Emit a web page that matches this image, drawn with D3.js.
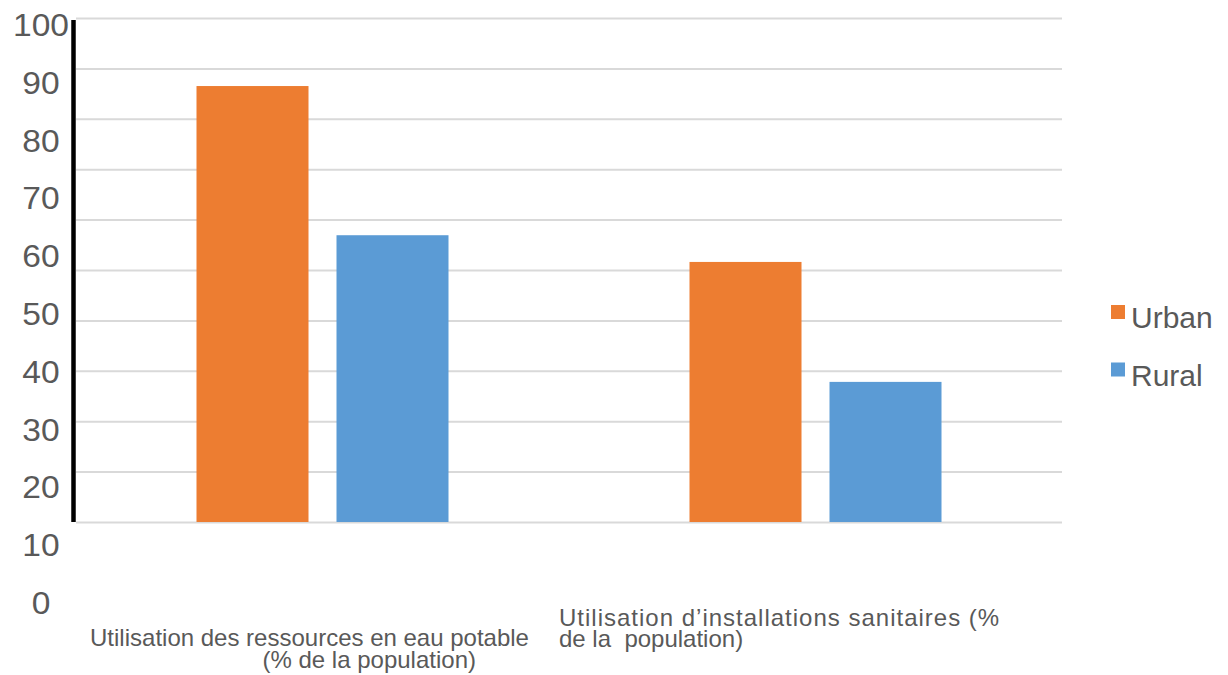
<!DOCTYPE html>
<html>
<head>
<meta charset="utf-8">
<script src="https://cdn.jsdelivr.net/npm/d3@7"></script>
<style>
  html, body { margin: 0; padding: 0; background: #fff; }
  svg { display: block; font-family: "Liberation Sans", Arial, sans-serif; }
</style>
</head>
<body>
<svg id="chart" width="1228" height="675"></svg>
<script>
// ---- data ----
const categories = [
  "Utilisation des ressources en eau potable (% de la population)",
  "Utilisation d’installations sanitaires (% de la population)"
];
const categoryLines = [
  ["Utilisation des ressources en eau potable", "(% de la population)"],
  ["Utilisation d’installations sanitaires (%", "de la  population)"]
];
const seriesNames = ["Urban", "Rural"];
const urbanValues = [86.5, 51.6];
const ruralValues = [56.9, 27.8];
const tickValues = [0, 10, 20, 30, 40, 50, 60, 70, 80, 90, 100];
const seriesColors = ["#ED7D31", "#5B9BD5"];

// ---- layout ----
const svg = d3.select("#chart");
const plotLeft = 76, plotRight = 1062, plotTop = 18, plotBottom = 522;
const textColor = "#595959";

const x = d3.scaleBand().domain(categories).range([plotLeft, plotRight]).padding(0);
const groupW = 252;
const xInner = d3.scaleBand().domain(seriesNames).range([0, groupW]).paddingInner(0.2).paddingOuter(0);
const y = d3.scaleLinear().domain([0, 100]).range([plotBottom, plotTop]);
// tick labels in the source are laid out on their own spacing
const yLabel = d3.scaleLinear().domain([0, 100]).range([602.5, 24.5]);

// gridlines
const grid = d3.axisLeft(y).tickValues(tickValues).tickSize(-(plotRight - plotLeft)).tickFormat("");
const gg = svg.append("g").attr("transform", `translate(${plotLeft},0)`).call(grid);
gg.select(".domain").remove();
gg.selectAll(".tick line").attr("stroke", "#d9d9d9").attr("stroke-width", 2);

// bars
const data = categories.map((c, i) => ({ cat: c, values: [
  { name: seriesNames[0], v: urbanValues[i] },
  { name: seriesNames[1], v: ruralValues[i] }
]}));
const groups = svg.append("g").selectAll("g").data(data).join("g")
  .attr("transform", d => `translate(${x(d.cat) + (x.bandwidth() - groupW) / 2},0)`);
groups.selectAll("rect").data(d => d.values).join("rect")
  .attr("x", d => xInner(d.name))
  .attr("width", xInner.bandwidth())
  .attr("y", d => y(d.v))
  .attr("height", d => y(0) - y(d.v))
  .attr("fill", (d, i) => seriesColors[i]);

// black vertical axis line
svg.append("line")
  .attr("x1", plotLeft - 2.5).attr("x2", plotLeft - 2.5)
  .attr("y1", y(100) + 2).attr("y2", y(0))
  .attr("stroke", "#000").attr("stroke-width", 4.5);

// y tick labels
const yl = d3.axisLeft(yLabel).tickValues(tickValues).tickSize(0).tickPadding(0);
const ylg = svg.append("g").attr("transform", "translate(41,0)").call(yl);
ylg.select(".domain").remove();
ylg.selectAll(".tick text")
  .attr("text-anchor", "middle")
  .attr("x", 0)
  .attr("dy", "0.36em")
  .attr("transform", "scale(1.1,1)")
  .attr("fill", textColor)
  .style("font-size", "30.5px")
  .style("font-family", '"Liberation Sans", Arial, sans-serif');

// category labels (one text element per category, one tspan per line)
const keepSpaces = s => s.replace(/  /g, " \u00a0");
const cl = svg.append("g").attr("fill", textColor).style("font-size", "24px");
const c0 = x(categories[0]) + x.bandwidth() / 2;
const t0 = cl.append("text");
t0.append("tspan").attr("x", c0 - 13).attr("y", 646).attr("text-anchor", "middle").text(categoryLines[0][0]);
t0.append("tspan").attr("x", c0 - 60).attr("y", 668).attr("text-anchor", "start").text(categoryLines[0][1]);
const c1 = x(categories[1]);
const t1 = cl.append("text").attr("text-anchor", "start");
t1.append("tspan").attr("x", c1 - 10).attr("y", 626)
  .style("letter-spacing", "1px").text(categoryLines[1][0]);
t1.append("tspan").attr("x", c1 - 10).attr("y", 647)
  .style("letter-spacing", "0px").text(keepSpaces(categoryLines[1][1]));

// legend
const legend = svg.append("g").selectAll("g").data(seriesNames).join("g")
  .attr("transform", (d, i) => `translate(1111,${305 + i * 57.5})`);
legend.append("rect").attr("width", 14).attr("height", 14).attr("fill", (d, i) => seriesColors[i]);
legend.append("text").attr("x", 20).attr("y", 23).attr("fill", textColor)
  .style("font-size", "30px").text(d => d);
</script>
</body>
</html>
